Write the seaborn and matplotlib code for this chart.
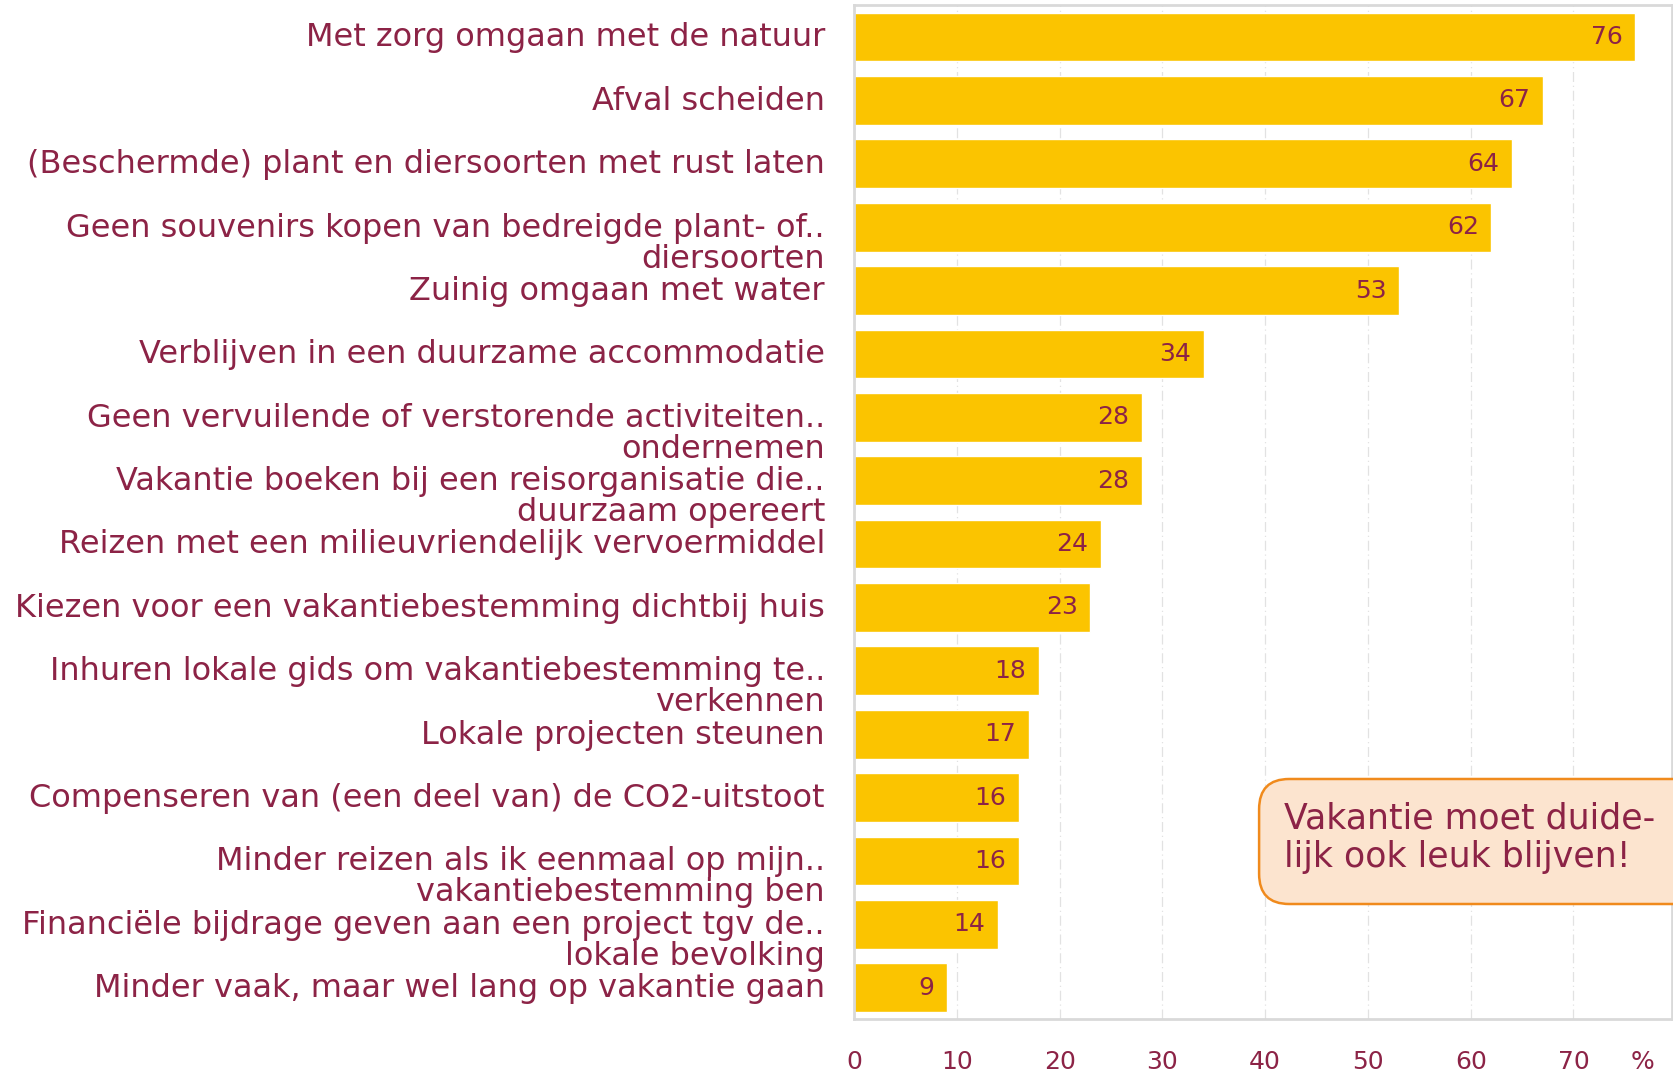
import matplotlib
matplotlib.use('Agg')
import matplotlib.pyplot as plt
from matplotlib.patches import FancyBboxPatch
import seaborn as sns
import pandas as pd

labels = [
    "Met zorg omgaan met de natuur",
    "Afval scheiden",
    "(Beschermde) plant en diersoorten met rust laten",
    "Geen souvenirs kopen van bedreigde plant- of..\ndiersoorten",
    "Zuinig omgaan met water",
    "Verblijven in een duurzame accommodatie",
    "Geen vervuilende of verstorende activiteiten..\nondernemen",
    "Vakantie boeken bij een reisorganisatie die..\nduurzaam opereert",
    "Reizen met een milieuvriendelijk vervoermiddel",
    "Kiezen voor een vakantiebestemming dichtbij huis",
    "Inhuren lokale gids om vakantiebestemming te..\nverkennen",
    "Lokale projecten steunen",
    "Compenseren van (een deel van) de CO2-uitstoot",
    "Minder reizen als ik eenmaal op mijn..\nvakantiebestemming ben",
    "Financiële bijdrage geven aan een project tgv de..\nlokale bevolking",
    "Minder vaak, maar wel lang op vakantie gaan",
]
values = [76, 67, 64, 62, 53, 34, 28, 28, 24, 23, 18, 17, 16, 16, 14, 9]
xticks = [0, 10, 20, 30, 40, 50, 60, 70]
note = "Vakantie moet duide-\nlijk ook leuk blijven!"

txt = '#8C2346'
bar_col = '#FBC400'
edge = '#D9D9D9'

df = pd.DataFrame({'label': labels, 'value': values})

sns.set_style('white')
plt.rcParams['font.family'] = ['DejaVu Sans']

fig = plt.figure(figsize=(16.73, 10.73), dpi=100)
ax = fig.add_axes([0.5105, 0.05, 0.489, 0.945])

sns.barplot(data=df, y='label', x='value', orient='h', color=bar_col,
            saturation=1, width=0.77, ax=ax)

ax.set_xlim(0, 79.6)
ax.set_ylim(15.5, -0.5)
ax.set_xticks(xticks)
ax.set_xticklabels([str(t) for t in xticks], color=txt, fontsize=18)
ax.tick_params(axis='x', length=0, pad=22)
ax.set_yticks([])
ax.set_xlabel('')
ax.set_ylabel('')
ax.xaxis.grid(True, color='#E2E2E2', linestyle=(0, (8, 3, 1, 3)), linewidth=0.9)
ax.set_axisbelow(True)
for s in ax.spines.values():
    s.set_color(edge)
    s.set_linewidth(2)

for i, (lab, v) in enumerate(zip(labels, values)):
    ax.annotate(lab, xy=(0, i), xycoords=('axes fraction', 'data'),
                xytext=(-21, 10.5), textcoords='offset points',
                ha='right', va='top', multialignment='right',
                color=txt, fontsize=23, linespacing=1.0)
    ax.annotate(str(v), xy=(v, i), xycoords='data',
                xytext=(-9, 0), textcoords='offset points',
                ha='right', va='center', color=txt, fontsize=18)

fig.text(0.982, 0.0103, '%', color=txt, fontsize=18, ha='center', va='center')

box = FancyBboxPatch((0.7526, 0.1575), 0.28, 0.1165, transform=fig.transFigure,
                     boxstyle='round,pad=0,rounding_size=0.018',
                     facecolor='#FCE4CF', edgecolor='#F08A1C', linewidth=1.8,
                     mutation_aspect=1.56, clip_on=False)
fig.patches.append(box)
fig.text(0.7675, 0.219, note, color=txt, fontsize=25, ha='left', va='center',
         linespacing=1.15)

fig.savefig('out.png', dpi=100)
